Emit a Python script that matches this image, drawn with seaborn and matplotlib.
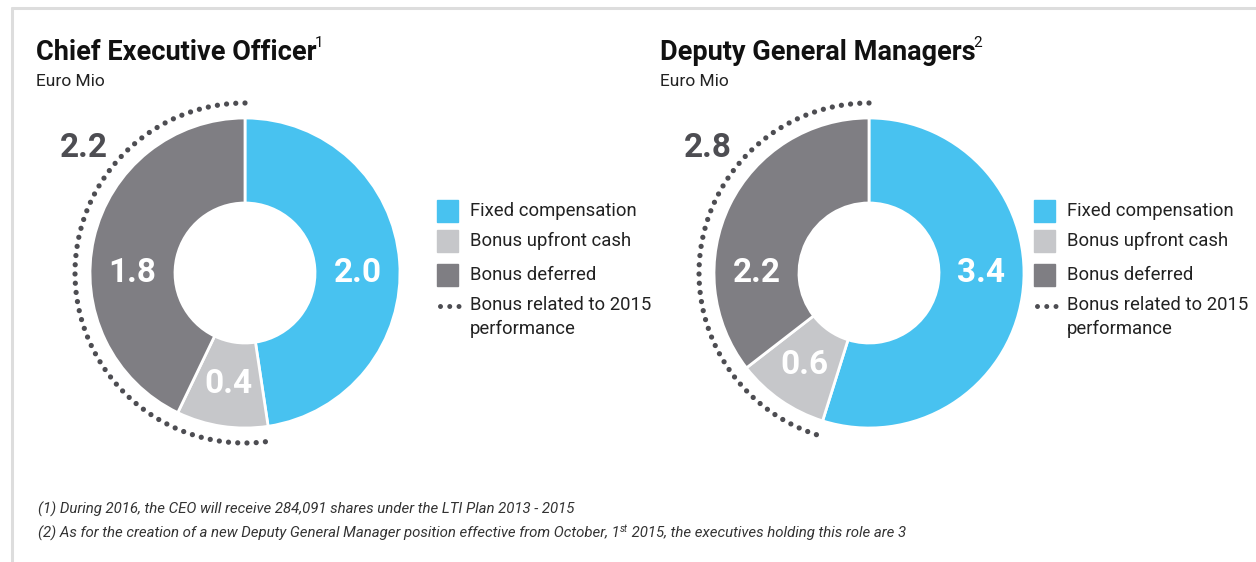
import numpy as np
import matplotlib.pyplot as plt
import seaborn as sns
from matplotlib.patches import Rectangle
from matplotlib.lines import Line2D

# data
components = ["Fixed compensation", "Bonus upfront cash", "Bonus deferred"]
ceo_values = [2.0, 0.4, 1.8]
dgm_values = [3.4, 0.6, 2.2]
titles = ["Chief Executive Officer", "Deputy General Managers"]
title_notes = ["1", "2"]
unit = "Euro Mio"
bonus_label = "Bonus related to 2015\nperformance"
footnote1 = "(1) During 2016, the CEO will receive 284,091 shares under the LTI Plan 2013 - 2015"
footnote2a = "(2) As for the creation of a new Deputy General Manager position effective from October, 1"
footnote2b = "st"
footnote2c = " 2015, the executives holding this role are 3"

sns.set_theme(style="white")
plt.rcParams['font.family'] = ['Roboto', 'DejaVu Sans']

palette = sns.color_palette(["#48C2F0", "#C6C7CA", "#7F7E83"])
dot_color = "#4D4D52"
W, H = 1256, 562

fig = plt.figure(figsize=(W / 100, H / 100), dpi=100)
fig.patch.set_facecolor("white")
renderer = fig.canvas.get_renderer()


def fx(x):
    return x / W


def fy(y):
    return 1 - y / H


# frame lines
fig.add_artist(Line2D([fx(12), 1], [fy(8), fy(8)], color="#DDDDDD", lw=2.2))
fig.add_artist(Line2D([fx(12), fx(12)], [fy(8), 0], color="#DDDDDD", lw=2.2))


def donut(cx, cy, values, left_x, title, note, legend_x):
    R, w, r_dot = 155, 85, 170
    ax = fig.add_axes([fx(cx - 200), fy(cy + 200), 400 / W, 400 / H])
    ax.pie(values, colors=palette, radius=R, startangle=90, counterclock=False,
           wedgeprops=dict(width=w, edgecolor="white", linewidth=2))
    ax.set_xlim(-200, 200)
    ax.set_ylim(-200, 200)
    ax.axis("off")

    total = sum(values)
    r_mid = R - w / 2
    # inner labels
    start = 90
    for i, v in enumerate(values):
        span = 360 * v / total
        mid = np.deg2rad(start - span / 2)
        x, y = r_mid * np.cos(mid), r_mid * np.sin(mid)
        if i != 1:
            x, y = np.sign(x) * r_mid, 0
        ax.text(x, y, f"{v:.1f}", color="white", fontsize=24, fontweight="bold",
                ha="center", va="center")
        start -= span

    # dotted arc over the bonus part
    bonus = total - values[0]
    th = np.deg2rad(np.linspace(90, 90 + 360 * bonus / total, 200))
    ax.plot(r_dot * np.cos(th), r_dot * np.sin(th), color=dot_color, lw=3.8,
            linestyle=(0, (0.001, 1.75)), dash_capstyle="round", clip_on=False)
    fig.text(fx(left_x), fy(148), f"{bonus:.1f}", color=dot_color, fontsize=24,
             fontweight="bold", ha="left", va="center")

    # title
    t = fig.text(fx(cx - 209), fy(60), title, fontsize=19.5, fontweight="bold",
                 color="#111111", ha="left", va="baseline")
    bb = t.get_window_extent(renderer)
    fig.text((bb.x1 - 2) / W, fy(47), note, fontsize=11, color="#111111",
             ha="left", va="baseline")
    fig.text(fx(cx - 209), fy(86), unit, fontsize=12.5, color="#222222",
             ha="left", va="baseline")

    # legend
    rows = [211, 241, 275]
    for y, c, name in zip(rows, palette, components):
        fig.add_artist(Rectangle((fx(legend_x), fy(y + 11)), 21 / W, 22 / H,
                                 color=c, transform=fig.transFigure))
        fig.text(fx(legend_x + 33), fy(y), name, fontsize=13.3, color="#222222",
                 ha="left", va="center")
    fig.add_artist(Line2D([fx(legend_x + 3), fx(legend_x + 22)], [fy(306), fy(306)],
                          color=dot_color, lw=3.6, linestyle=(0, (0.001, 1.85)),
                          dash_capstyle="round"))
    fig.text(fx(legend_x + 33), fy(296), bonus_label, fontsize=13.3, color="#222222",
             ha="left", va="top", linespacing=1.45)


donut(245, 273, ceo_values, 60, titles[0], title_notes[0], 437)
donut(869, 273, dgm_values, 684, titles[1], title_notes[1], 1034)

# footnotes
fs = 10.8
fig.text(fx(38), fy(509), footnote1, fontsize=fs, style="italic", color="#333333",
         ha="left", va="center")
t2 = fig.text(fx(38), fy(533), footnote2a, fontsize=fs, style="italic", color="#333333",
              ha="left", va="center")
bb = t2.get_window_extent(renderer)
t3 = fig.text(bb.x1 / W, fy(529), footnote2b, fontsize=7, style="italic",
              color="#333333", ha="left", va="center")
bb3 = t3.get_window_extent(renderer)
fig.text(bb3.x1 / W, fy(533), footnote2c, fontsize=fs, style="italic", color="#333333",
         ha="left", va="center")

fig.savefig("out.png", dpi=100, facecolor="white")
